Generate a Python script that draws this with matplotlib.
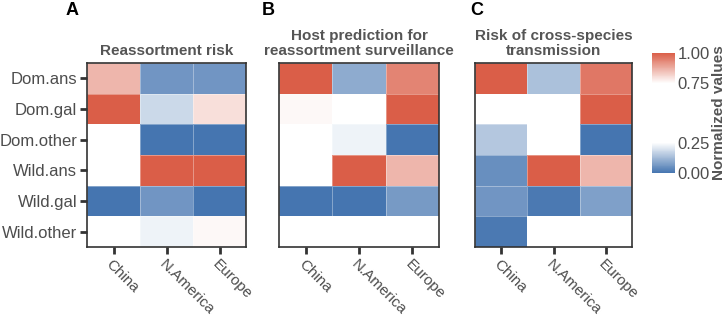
import numpy as np
import matplotlib
matplotlib.use("Agg")
from matplotlib import pyplot as plt
from matplotlib.colors import LinearSegmentedColormap

plt.rcParams['font.family'] = ['Liberation Sans', 'DejaVu Sans']

# data (white cells = no value)
hosts = ['Dom.ans', 'Dom.gal', 'Dom.other', 'Wild.ans', 'Wild.gal', 'Wild.other']
regions = ['China', 'N.America', 'Europe']
titles = ['Reassortment risk',
          'Host prediction for\nreassortment surveillance',
          'Risk of cross-species\ntransmission']
letters = ['A', 'B', 'C']
nan = np.nan

reassort = [[0.86, 0.06, 0.06],
            [1.00, 0.18, 0.80],
            [nan, 0.00, 0.00],
            [nan, 1.00, 1.00],
            [0.00, 0.06, 0.00],
            [nan, 0.23, 0.76]]
host_pred = [[1.00, 0.10, 0.94],
             [0.76, nan, 1.00],
             [nan, 0.23, 0.00],
             [nan, 1.00, 0.86],
             [0.00, 0.00, 0.07],
             [nan, nan, nan]]
cross = [[1.00, 0.14, 0.96],
         [nan, nan, 1.00],
         [0.15, nan, 0.00],
         [0.05, 1.00, 0.86],
         [0.06, 0.01, 0.08],
         [0.01, nan, nan]]

blue = '#4575b0'
red = '#da5e48'
cmap = LinearSegmentedColormap.from_list(
    'risk', [(0, blue), (0.25, 'white'), (0.75, 'white'), (1, red)])
cmap.set_bad('white')

W, H = 726, 319
fig = plt.figure(figsize=(W / 100, H / 100), dpi=100)

boxes = [(87, 159), (279, 160), (475, 157)]
letter_x = [66, 262, 470]
txt = '#4d4d4d'
for i, data in enumerate([reassort, host_pred, cross]):
    x0, w = boxes[i]
    ax = fig.add_axes([x0 / W, (H - 247) / H, w / W, 184 / H])
    m = np.ma.masked_invalid(np.array(data, dtype=float))
    mesh = ax.pcolormesh(m, cmap=cmap, vmin=0, vmax=1,
                         edgecolors=(1, 1, 1, 0.35), linewidth=0.6)
    ax.set_xlim(0, 3)
    ax.set_ylim(6, 0)
    ax.set_xticks(np.arange(3) + 0.5)
    ax.set_xticklabels(regions, rotation=-45, ha='left', va='top',
                       rotation_mode='anchor', fontsize=11, color=txt)
    ax.set_yticks(np.arange(6) + 0.5)
    if i == 0:
        ax.set_yticklabels(hosts, fontsize=12, color=txt)
    else:
        ax.set_yticklabels([])
    ax.tick_params(length=5, width=2, color='#333333', pad=2)
    if i > 0:
        ax.tick_params(axis='y', length=0)
    for s in ax.spines.values():
        s.set_linewidth(1.2)
        s.set_color('#333333')
    ax.set_title(titles[i], fontsize=11, fontweight='bold', color='#555555',
                 pad=6, linespacing=1.05)
    fig.text(letter_x[i] / W, 1 - 2 / H, letters[i], fontsize=13,
             fontweight='bold', va='top', ha='left')

cax = fig.add_axes([652 / W, (H - 173) / H, 23 / W, 120 / H])
cb = fig.colorbar(mesh, cax=cax, ticks=[0, 0.25, 0.75, 1])
cb.outline.set_visible(False)
cb.ax.set_yticklabels(['0.00', '0.25', '0.75', '1.00'], fontsize=12, color=txt)
cb.ax.tick_params(length=0, pad=2)
cb.set_label('Normalized values', fontsize=11, fontweight='bold',
             color='#555555', labelpad=1)

fig.savefig('out.png', dpi=100)
